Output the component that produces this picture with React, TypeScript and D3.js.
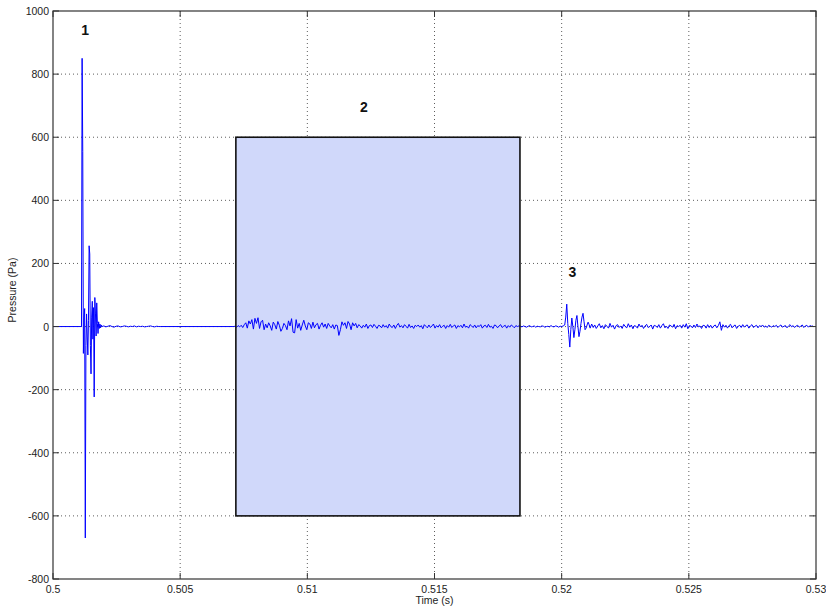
import * as d3 from "d3";
import { useEffect, useRef } from "react";

const WIDTH = 826;
const HEIGHT = 607;

const X_TICKS = [0.5, 0.505, 0.51, 0.515, 0.52, 0.525, 0.53];
const Y_TICKS = [-800, -600, -400, -200, 0, 200, 400, 600, 800, 1000];

// shaded window (region 2)
const BOX_T = [0.50719, 0.51836];
const BOX_P = [-600, 600];

const MARKERS = [
  { label: "1", t: 0.50126, p: 935 },
  { label: "2", t: 0.51222, p: 690 },
  { label: "3", t: 0.52042, p: 165 },
];

// pressure trace (dt in s, values in Pa)
const START = [0];
const FLAT_A = [0];
const BURST_1 = [
  850, 555, -85, 30, 57, -670, -60, 40, -30, -90, 20, 256, 230, -60, -150, 30,
  80, -40, 60, -223, 92, 40, -30, 75, 10, -22, 15, -6, 8, -4, 5, 0,
];
const TAIL_1 = [
  2, -1, 1, 3, 0, -2, 1, 2, -1, 0, 2, 1, -1, 1, 0, 2, -1, 1, 0, 1, -1, 0, 1, 2,
  0, -1, 1, 0, 0,
];
const FLAT_B = [0];
const NOISE_2 = [
  0, 1, -2, 3, -1, 4, -3, 6,
  12, -5, 18, 8, 22, -8, 26, 10, 28, -6, 15, 20, -10,
  8, -4, 12, 2, -12, 14, 6, -8, 16, 4, -15, -6, 10, 3, -10, 18, 2,
  25, -18, -20, 22, -5, 10, -12, 5,
  20, 2, -10, 12, 8, -6, 14, -4, 6, 10, -8, 4, 12, -2, 8, -6, 10, 2, -4, 6, -8, 5, 3, -28, -10,
  15, 4, 12, -6, 16, 8, -10, 12, 2, 10,
  -4, 6, 2, -5, 4, -2, 8, -6, 3, 5, -3, 7, 1, -6, 4, 2, -4, 6, -2, 3,
  -5, 8, 0, -3, 5, -6, 4, 10, -2, 3, -4, 6, 1, -5, 7, -3, 2, -6, 4, 0,
  5, -2, 3, -7, 6, 1, -4, 5, -3, 2, 8, -5, 3, -2, 6, -4, 1, 4, -6, 3,
  -2, 7, -3, 2, 5, -6, 3, -1, 4, -4, 8, -2, 1, -5, 6, 2, -3, 5, -4, 3,
  0, 6, -5, 2, 4, -3, 7, -2, 1, -6, 5, 3, -4, 2, 6, -3, 1, 4, -5, 3,
  -2, 5, 1, -4, 3, 0, 2,
];
const QUIET_3 = [
  1, -1, 2, 0, -2, 1, 3, -1, 0, 2, -2, 1, 0, -1, 2, 1, -2, 0, 1, -1, 3, 0, -1,
  2, 1, -2, 1, 0, 2, 5,
];
const BURST_3 = [
  30, 71, 10, -25, -65, -10, 27, 0, -35, -10, 20, 35, 0, -32, -15, 10, 30, 42,
  15, -10, -5, 5, 14, 6, -5,
];
const NOISE_3 = [
  8, -3, 5, -6, 2, 9, -4, 3, -7, 6, 1, -5, 10, -2, 4, -8, 3, 6, -3, 2,
  -6, 7, 0, -4, 9, -2, 5, -7, 3, 1, -5, 8, -1, 4, -6, 2, 7, -3, 0, 5,
  -8, 4, 2, -3, 6, -5, 3, 9, -4, 1, -6, 5, 2, -2, 7, -7, 3, 0, 4, -5,
  6, -2, 9, -7, 3, 2, -4, 5, -3, 8, -1, 2, -6, 4, 3, -5, 6, -3, 4, -5,
  2, 5, -4, 3, 15, -12, 6, -2, 4, -5, 3, 7, -4, 2, 5, -6, 1, 4, -3, 6,
  -2, 3, 5, -5, 2, 6, -3, 1, 4, -4, 3, 0, 5, -2, 2, -3, 4, 1, -2, 3,
  0, 4, -3, 2, 5, -2, 1, 3, -4, 2, 6, -1, 3, -3, 2, 4, -2, 1, 5, -3,
  2, 4, -2, 3, 1, 2,
];

const SEGMENTS: [number, number[]][] = [
  [0, START],
  [0.00112, FLAT_A],
  [0.000025, BURST_1],
  [0.00008, TAIL_1],
  [0.0028, FLAT_B],
  [0.00006, NOISE_2],
  [0.00006, QUIET_3],
  [0.00004, BURST_3],
  [0.00006, NOISE_3],
];

const buildTrace = () => {
  const pts: [number, number][] = [];
  let t = 0.5;
  SEGMENTS.forEach(([dt, vals]) => {
    vals.forEach((v) => {
      t += dt;
      pts.push([Math.min(t, 0.53), v]);
    });
  });
  return pts;
};

const App = () => {
  const svgRef = useRef<SVGSVGElement | null>(null);

  useEffect(() => {
    const svg = d3.select(svgRef.current);
    svg.selectAll("*").remove();

    const left = 53;
    const right = 816;
    const top = 11;
    const bottom = 579;

    const x = d3.scaleLinear().domain([0.5, 0.53]).range([left, right]);
    const y = d3.scaleLinear().domain([-800, 1000]).range([bottom, top]);

    svg.append("rect").attr("width", WIDTH).attr("height", HEIGHT).attr("fill", "#fff");

    // dotted grid
    const grid = svg.append("g").attr("stroke", "#333").attr("stroke-dasharray", "1,3").attr("stroke-width", 0.8);
    X_TICKS.slice(1, -1).forEach((t) => {
      grid.append("line").attr("x1", x(t)).attr("x2", x(t)).attr("y1", top).attr("y2", bottom);
    });
    Y_TICKS.slice(1, -1).forEach((p) => {
      grid.append("line").attr("x1", left).attr("x2", right).attr("y1", y(p)).attr("y2", y(p));
    });

    // shaded box
    svg
      .append("rect")
      .attr("x", x(BOX_T[0]))
      .attr("y", y(BOX_P[1]))
      .attr("width", x(BOX_T[1]) - x(BOX_T[0]))
      .attr("height", y(BOX_P[0]) - y(BOX_P[1]))
      .attr("fill", "#d0d8fa");

    // trace
    const line = d3
      .line<[number, number]>()
      .x((d) => x(d[0]))
      .y((d) => y(d[1]));
    svg
      .append("path")
      .datum(buildTrace())
      .attr("d", line)
      .attr("fill", "none")
      .attr("stroke", "#0000ff")
      .attr("stroke-width", 1)
      .attr("stroke-linejoin", "round");

    svg
      .append("rect")
      .attr("x", x(BOX_T[0]))
      .attr("y", y(BOX_P[1]))
      .attr("width", x(BOX_T[1]) - x(BOX_T[0]))
      .attr("height", y(BOX_P[0]) - y(BOX_P[1]))
      .attr("fill", "none")
      .attr("stroke", "#111")
      .attr("stroke-width", 1.6);

    // frame + ticks
    svg
      .append("rect")
      .attr("x", left)
      .attr("y", top)
      .attr("width", right - left)
      .attr("height", bottom - top)
      .attr("fill", "none")
      .attr("stroke", "#333")
      .attr("stroke-width", 1.2);

    const ticks = svg.append("g").attr("stroke", "#333").attr("stroke-width", 1);
    X_TICKS.forEach((t) => {
      ticks.append("line").attr("x1", x(t)).attr("x2", x(t)).attr("y1", bottom).attr("y2", bottom - 6);
      ticks.append("line").attr("x1", x(t)).attr("x2", x(t)).attr("y1", top).attr("y2", top + 6);
    });
    Y_TICKS.forEach((p) => {
      ticks.append("line").attr("x1", left).attr("x2", left + 6).attr("y1", y(p)).attr("y2", y(p));
      ticks.append("line").attr("x1", right).attr("x2", right - 6).attr("y1", y(p)).attr("y2", y(p));
    });

    const font = "Liberation Sans, Arial, sans-serif";

    svg
      .append("g")
      .selectAll("text")
      .data(X_TICKS)
      .enter()
      .append("text")
      .attr("x", (d) => x(d))
      .attr("y", bottom + 14)
      .attr("text-anchor", "middle")
      .attr("font-family", font)
      .attr("font-size", "10.5px")
      .attr("fill", "#222")
      .text((d) => String(d));

    svg
      .append("g")
      .selectAll("text")
      .data(Y_TICKS)
      .enter()
      .append("text")
      .attr("x", left - 4)
      .attr("y", (d) => y(d) + 4)
      .attr("text-anchor", "end")
      .attr("font-family", font)
      .attr("font-size", "10.5px")
      .attr("fill", "#222")
      .text((d) => String(d));

    svg
      .append("text")
      .attr("x", (left + right) / 2)
      .attr("y", 604)
      .attr("text-anchor", "middle")
      .attr("font-family", font)
      .attr("font-size", "10.5px")
      .attr("fill", "#222")
      .text("Time (s)");

    svg
      .append("text")
      .attr("transform", `translate(16, 290) rotate(-90)`)
      .attr("text-anchor", "middle")
      .attr("font-family", font)
      .attr("font-size", "10.5px")
      .attr("fill", "#222")
      .text("Pressure (Pa)");

    svg
      .append("g")
      .selectAll("text")
      .data(MARKERS)
      .enter()
      .append("text")
      .attr("x", (d) => x(d.t))
      .attr("y", (d) => y(d.p) + 3)
      .attr("text-anchor", "middle")
      .attr("font-family", font)
      .attr("font-size", "14px")
      .attr("font-weight", "bold")
      .attr("fill", "#111")
      .text((d) => d.label);
  }, []);

  return (
    <svg
      ref={svgRef}
      width={WIDTH}
      height={HEIGHT}
      style={{ position: "absolute", left: 0, top: 0, display: "block" }}
    />
  );
};

export default App;
